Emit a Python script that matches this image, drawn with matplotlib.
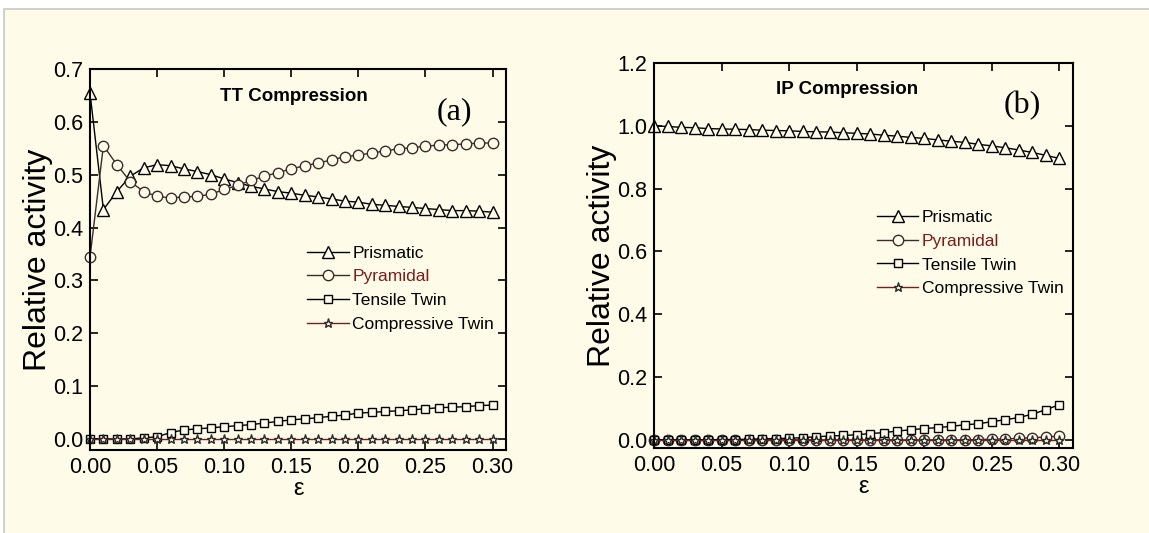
import numpy as np
import matplotlib
matplotlib.use("Agg")
import matplotlib.pyplot as plt
from matplotlib.patches import Rectangle

plt.rcParams['font.family'] = ['Liberation Sans', 'DejaVu Sans']

eps = [round(0.01 * i, 2) for i in range(31)]

# panel (a) TT compression
a_prismatic = [0.655, 0.434, 0.468, 0.497, 0.513, 0.519, 0.517, 0.511, 0.506, 0.500,
               0.492, 0.485, 0.478, 0.473, 0.468, 0.465, 0.461, 0.458, 0.454, 0.450,
               0.448, 0.444, 0.442, 0.440, 0.438, 0.436, 0.434, 0.432, 0.432, 0.431, 0.429]
a_pyramidal = [0.344, 0.555, 0.519, 0.487, 0.468, 0.459, 0.456, 0.458, 0.459, 0.463,
               0.472, 0.480, 0.489, 0.497, 0.504, 0.511, 0.517, 0.522, 0.528, 0.534,
               0.537, 0.541, 0.545, 0.549, 0.551, 0.554, 0.556, 0.557, 0.558, 0.560, 0.560]
a_tensile = [0.0, 0.0, 0.0, 0.0, 0.002, 0.004, 0.012, 0.017, 0.019, 0.021,
             0.023, 0.025, 0.027, 0.030, 0.033, 0.036, 0.038, 0.040, 0.043, 0.045,
             0.049, 0.050, 0.052, 0.053, 0.055, 0.057, 0.059, 0.060, 0.061, 0.063, 0.064]
a_compressive = [0.0] * 31

# panel (b) IP compression
b_prismatic = [1.000, 0.998, 0.995, 0.994, 0.991, 0.990, 0.989, 0.988, 0.986, 0.985,
               0.984, 0.982, 0.981, 0.980, 0.978, 0.976, 0.974, 0.970, 0.967, 0.963,
               0.960, 0.955, 0.951, 0.947, 0.941, 0.936, 0.930, 0.923, 0.915, 0.906, 0.896]
b_pyramidal = [0.0, 0.0, 0.0, 0.0, 0.0, 0.0, 0.0, 0.0, 0.0, 0.0,
               0.0, 0.0, 0.0, 0.0, 0.0, 0.0, 0.0, 0.0, 0.0, 0.0,
               0.0, 0.0, 0.0, 0.0, 0.001, 0.002, 0.003, 0.005, 0.007, 0.009, 0.012]
b_tensile = [0.0, 0.0, 0.0, 0.0, 0.0, 0.001, 0.001, 0.002, 0.003, 0.004,
             0.005, 0.007, 0.010, 0.012, 0.014, 0.016, 0.020, 0.023, 0.028, 0.032,
             0.036, 0.039, 0.043, 0.048, 0.051, 0.058, 0.064, 0.071, 0.082, 0.096, 0.112]
b_compressive = [0.0] * 31

labels = ['Prismatic', 'Pyramidal', 'Tensile Twin', 'Compressive Twin']
bg = '#fefce8'
dark_red = '#7a1c1c'

fig = plt.figure(figsize=(11.49, 5.33), dpi=100, facecolor='white')
fig.patches.append(Rectangle((4 / 1149, -0.01), 1.0, (533 - 9) / 533 + 0.01,
                             transform=fig.transFigure, facecolor=bg,
                             edgecolor='#c8c8c8', linewidth=1.2, zorder=-10))

W, H = 1149.0, 533.0
ax1 = fig.add_axes([90 / W, 1 - 450 / H, 416 / W, 381 / H])
ax2 = fig.add_axes([654 / W, 1 - 448 / H, 419 / W, 385 / H])


def panel(ax, data, ylim, yticks, title, tag, tpos, lpos):
    ax.set_facecolor(bg)
    styles = [('^', 'black', 'black', 8),
              ('o', '#3b2b2b', '#3b2b2b', 7.5),
              ('s', 'black', 'black', 6),
              ('*', dark_red, '#2a2a2a', 6.5)]
    for vals, lab, (m, lc, mc, ms) in zip(data, labels, styles):
        ax.plot(eps, vals, marker=m, color=lc, markeredgecolor=mc,
                markerfacecolor=bg, markersize=ms, linewidth=1.0,
                markeredgewidth=1.0, label=lab, clip_on=False)
    ax.set_xlim(0, 0.31)
    ax.set_ylim(*ylim)
    ax.set_xticks([0.0, 0.05, 0.10, 0.15, 0.20, 0.25, 0.30])
    ax.set_xticklabels(['0.00', '0.05', '0.10', '0.15', '0.20', '0.25', '0.30'])
    ax.set_yticks(yticks)
    ax.set_yticklabels(['%.1f' % v for v in yticks])
    ax.tick_params(direction='in', length=6, width=1.2, top=True, right=True,
                   labelsize=15.5, pad=5)
    for s in ax.spines.values():
        s.set_linewidth(1.5)
    ax.set_xlabel('ε', fontsize=17, labelpad=0)
    ax.set_ylabel('Relative activity', fontsize=23, labelpad=0)
    ax.text(tpos[0], tpos[1], title, transform=ax.transAxes, fontsize=13.5,
            fontweight='bold', ha='center', va='center')
    ax.text(tpos[2], tpos[3], tag, transform=ax.transAxes, fontsize=23,
            family='Liberation Serif', ha='center', va='center')
    leg = ax.legend(loc='upper left', bbox_to_anchor=lpos, frameon=False,
                    fontsize=12.5, handlelength=2.4, handletextpad=0.2,
                    labelspacing=0.5, borderaxespad=0)
    leg.get_texts()[1].set_color(dark_red)


panel(ax1, [a_prismatic, a_pyramidal, a_tensile, a_compressive],
      (-0.021, 0.7), [0.0, 0.1, 0.2, 0.3, 0.4, 0.5, 0.6, 0.7],
      'TT Compression', '(a)', (0.49, 0.927, 0.877, 0.887), (0.505, 0.555))
panel(ax2, [b_prismatic, b_pyramidal, b_tensile, b_compressive],
      (-0.026, 1.2), [0.0, 0.2, 0.4, 0.6, 0.8, 1.0, 1.2],
      'IP Compression', '(b)', (0.46, 0.93, 0.88, 0.89), (0.515, 0.637))

fig.savefig('out.png', dpi=100, facecolor=fig.get_facecolor())
